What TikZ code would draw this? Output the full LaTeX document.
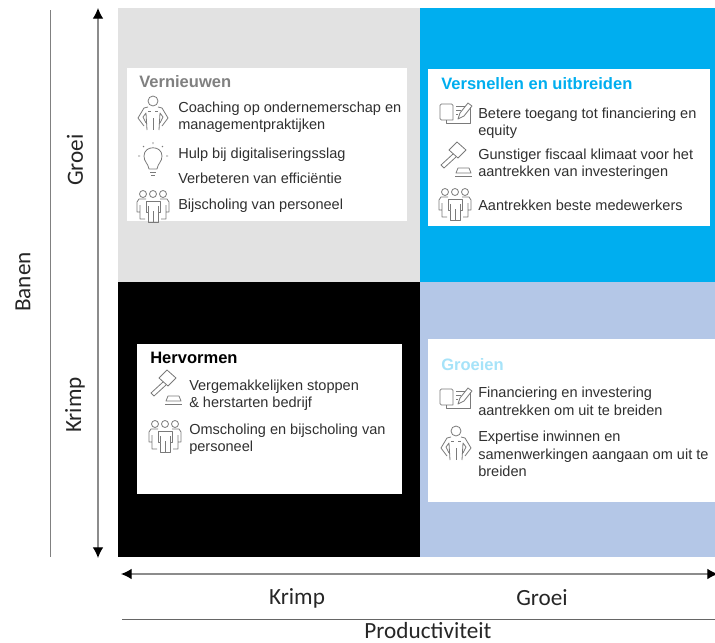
\documentclass[tikz,border=0pt]{standalone}
\usepackage{fontspec}
\setmainfont{Liberation Sans}
\newfontfamily\axisfont{Carlito}
\usetikzlibrary{arrows.meta}

\definecolor{quadgray}{HTML}{E2E2E2}
\definecolor{quadcyan}{HTML}{00AEEF}
\definecolor{quadblue}{HTML}{B4C7E7}
\definecolor{icongray}{HTML}{7A7A7A}
\definecolor{bodytext}{HTML}{303030}

\tikzset{
  item/.style={anchor=west,align=left,inner sep=0pt,text=bodytext,font=\fontsize{10.9}{13.1}\selectfont},
  title/.style={anchor=west,inner sep=0pt,font=\fontsize{12.4}{13.1}\selectfont\bfseries},
  axislabel/.style={inner sep=0pt,text=black!85,font=\fontsize{17.4}{20}\selectfont\axisfont},
  axisarrow/.style={draw=black!45,line width=0.9pt,{Latex[black,length=8pt,width=8pt]}-{Latex[black,length=8pt,width=8pt]}},
  icon/.style={draw=icongray,line width=0.6pt,line join=round},
  coachicon/.pic={
    \draw[icon] (0,-11) circle (5);
    \draw[icon] (-5,-5) -- (-9,-4) -- (-15,6) -- (-9,14) (-7,11) -- (-10,5) -- (-7,1) -- (-6,18);
    \draw[icon] (5,-5) -- (9,-4) -- (15,6) -- (9,14) (7,11) -- (10,5) -- (7,1) -- (6,18);
    \draw[icon] (-5,-1) -- (-2,-1) (2,-1) -- (5,-1) (0,6) -- (0,18);
  },
  bulbicon/.pic={
    \draw[icon] (-4,9) .. controls (-5,3) and (-9,2) .. (-9,-4) .. controls (-9,-15) and (9,-15) .. (9,-4) .. controls (9,2) and (5,3) .. (4,9) -- cycle;
    \draw[icon] (-3,12) -- (3,12) (-2,15) -- (2,15);
    \draw[icon] (-15,-4) -- (-13,-4) (13,-4) -- (15,-4) (-10,-14) -- (-9,-13) (10,-14) -- (9,-13) (0,-18) -- (0,-16);
  },
  hammericon/.pic={
    \draw[icon] (-6,-12) -- (2,-20) -- (11,-12) -- (3,-4) -- cycle;
    \draw[icon] (-2,-8) -- (-14,3) -- (-11,6) -- (1,-5);
    \draw[icon] (3,6) -- (14,6) -- (16,11) -- (1,11) -- cycle;
    \draw[icon] (0,14) -- (17,14);
  },
  deskicon/.pic={
    \draw[icon,rounded corners=1pt] (-2,7) -- (-15,7) -- (-15,-9) -- (-2,-9) -- (-2,7);
    \draw[icon] (-9,7) -- (-9,10) -- (15,10) -- (15,-6);
    \draw[icon] (1,-7) -- (10,-7) (1,-3) -- (6,-3) (1,1) -- (3,1);
    \draw[icon] (3,6) -- (5,0) -- (13,-10) -- (17,-7) -- (9,3) -- cycle;
  },
  groupicon/.pic={
    \foreach \hx in {-10,0,10} {
      \draw[icon] (\hx,-11) circle (3.5);
    }
    \draw[icon] (-7,-6) -- (-14,-6) -- (-16,-3) -- (-16,7) -- (-13,7) -- (-13,14) -- (-8,14) (-13,0) -- (-13,7);
    \draw[icon] (7,-6) -- (14,-6) -- (16,-3) -- (16,7) -- (13,7) -- (13,14) -- (8,14) (13,0) -- (13,7);
    \draw[icon] (-7,7) -- (-7,-4) -- (7,-4) -- (7,7) -- (5,7) -- (5,17) -- (-5,17) -- (-5,7) -- cycle;
    \draw[icon] (0,6) -- (0,17) (-5,1) -- (-5,7) (5,1) -- (5,7);
  },
}

\begin{document}
\begin{tikzpicture}[x=0.75pt,y=-0.75pt]
  \useasboundingbox (0,0) rectangle (715,643);

  \fill[quadgray] (118,8) rectangle (420,282);
  \fill[quadcyan] (420,8) rectangle (715,282);
  \fill[black] (118,282) rectangle (420,557);
  \fill[quadblue] (420,282) rectangle (715,557);

  \fill[white] (127,68) rectangle (407,221);
  \fill[white] (428,69) rectangle (710,226);
  \fill[white] (137,344) rectangle (402,494);
  \fill[white] (428,339) rectangle (715,502);

  % top left
  \node[title,text=black!50] (vernieuwen) at (139,82) {Vernieuwen};
  \pic at (153,112) {coachicon};
  \node[item] (coaching) at (178,117) {Coaching op ondernemerschap en\\managementpraktijken};
  \pic at (153,160) {bulbicon};
  \node[item] (hulp) at (178,154.5) {Hulp bij digitaliseringsslag};
  \node[item] (efficient) at (178,178) {Verbeteren van efficiëntie};
  \pic at (153,205) {groupicon};
  \node[item] (bijscholing) at (178,206) {Bijscholing van personeel};

  % top right
  \node[title,text=quadcyan] (versnellen) at (441,83.5) {Versnellen en uitbreiden};
  \pic at (455,113) {deskicon};
  \node[item] (toegang) at (478,123.5) {Betere toegang tot financiering en\\equity};
  \pic at (455,162) {hammericon};
  \node[item] (fiscaal) at (478,164) {Gunstiger fiscaal klimaat voor het\\aantrekken van investeringen};
  \pic at (455,203) {groupicon};
  \node[item] (medewerkers) at (478,205) {Aantrekken beste medewerkers};

  % bottom left
  \node[title,text=black] (hervormen) at (150,358) {Hervormen};
  \pic at (165,390) {hammericon};
  \node[item] (stoppen) at (189,395) {Vergemakkelijken stoppen\\\& herstarten bedrijf};
  \pic at (165,435) {groupicon};
  \node[item] (omscholing) at (189,439) {Omscholing en bijscholing van\\personeel};

  % bottom right
  \node[title,text=quadcyan!35] (groeien) at (441,365) {Groeien};
  \pic at (455,398) {deskicon};
  \node[item] (financiering) at (478,401.5) {Financiering en investering\\aantrekken om uit te breiden};
  \pic at (456,442) {coachicon};
  \node[item] (expertise) at (478,454) {Expertise inwinnen en\\samenwerkingen aangaan om uit te\\breiden};

  % axes
  \coordinate (jobtop) at (98,8);
  \coordinate (jobbottom) at (98,558);
  \coordinate (prodleft) at (121,574);
  \coordinate (prodright) at (718,574);
  \coordinate (jobruletop) at (50,10);
  \coordinate (jobrulebottom) at (50,557);
  \coordinate (prodruleleft) at (122,619);
  \coordinate (prodruleright) at (715,619);
  \draw[axisarrow] (jobtop) -- (jobbottom);
  \draw[axisarrow] (prodleft) -- (prodright);
  \draw[black!50,line width=0.6pt] (jobruletop) -- (jobrulebottom);
  \draw[black!60,line width=0.6pt] (prodruleleft) -- (prodruleright);

  \node[axislabel,rotate=90] (banen) at (23,282) {Banen};
  \node[axislabel,rotate=90] (jobgroei) at (75,160) {Groei};
  \node[axislabel,rotate=90] (jobkrimp) at (75,405) {Krimp};
  \node[axislabel] (prodkrimp) at (297,598) {Krimp};
  \node[axislabel] (prodgroei) at (542,598) {Groei};
  \node[axislabel] (productiviteit) at (428,631) {Productiviteit};
\end{tikzpicture}
\end{document}
